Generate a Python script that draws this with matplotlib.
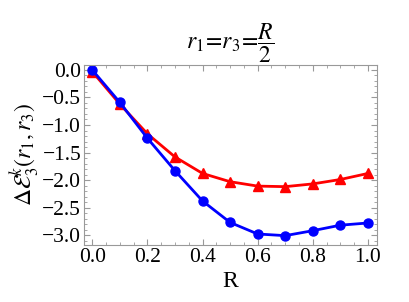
import matplotlib.pyplot as plt
from matplotlib.ticker import MultipleLocator

plt.rcParams['font.family'] = 'Liberation Serif'
plt.rcParams['mathtext.fontset'] = 'stix'

R = [0.0, 0.1, 0.2, 0.3, 0.4, 0.5, 0.6, 0.7, 0.8, 0.9, 1.0]
blue_vals = [0.0, -0.59, -1.24, -1.83, -2.38, -2.77, -2.98, -3.01, -2.92, -2.82, -2.78]
red_vals = [-0.03, -0.62, -1.16, -1.58, -1.88, -2.03, -2.11, -2.12, -2.07, -1.99, -1.88]

fig = plt.figure(figsize=(4.09, 3.02), dpi=100)
ax = fig.add_axes([84 / 409, 1 - 245 / 302, 293 / 409, 180 / 302])

ax.plot(R, red_vals, color='#ff0000', lw=2.0, marker='^', ms=6.5)
ax.plot(R, blue_vals, color='#0000ff', lw=2.0, marker='o', ms=6.5)

ax.set_xlim(-0.03, 1.033)
ax.set_ylim(-3.18, 0.09)
ax.xaxis.set_major_locator(MultipleLocator(0.2))
ax.xaxis.set_minor_locator(MultipleLocator(0.05))
ax.yaxis.set_major_locator(MultipleLocator(0.5))
ax.yaxis.set_minor_locator(MultipleLocator(0.1))
ax.tick_params(which='both', direction='in', top=True, right=True, color='#999999', labelsize=15.5)
ax.tick_params(which='major', length=4, pad=2)
ax.tick_params(which='minor', length=2)
for s in ax.spines.values():
    s.set_color('#999999')
ax.set_xticklabels(['%.1f' % v for v in ax.get_xticks()])

ax.set_xlabel('R', fontsize=17, labelpad=3)
ax.set_ylabel(r'$\Delta\mathcal{E}_3^k(r_1,r_3)$', fontsize=17, labelpad=1)
ax.set_title(r'$r_1\!=\!r_3\!=\!\dfrac{R}{2}$', fontsize=17, pad=4)

fig.savefig('out.png', dpi=100)
